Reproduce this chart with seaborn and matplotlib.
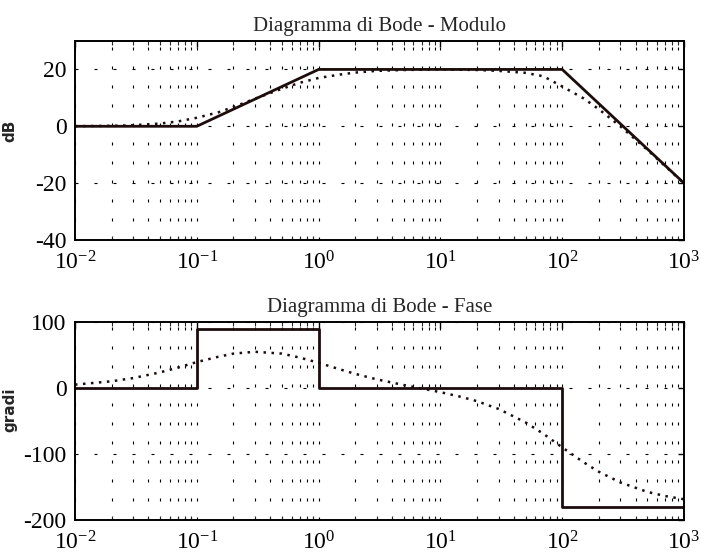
import numpy as np
import pandas as pd
import matplotlib
matplotlib.use("Agg")
import matplotlib.pyplot as plt
import seaborn as sns
from matplotlib.ticker import LogLocator, NullFormatter

sns.set_theme(style="white")
plt.rcParams['font.family'] = ['Liberation Serif', 'DejaVu Serif']
plt.rcParams['mathtext.fontset'] = 'custom'
plt.rcParams['mathtext.rm'] = 'Liberation Serif'
plt.rcParams['mathtext.it'] = 'Liberation Serif'

# ---- data ----
asym_freq = [0.01, 0.1, 1, 100, 1000]
asym_mag = [0, 0, 20, 20, -20]

phase_step_freq = [0.01, 0.1, 1, 100, 1000]
phase_step_val = [0, 90, 0, -180, -180]

real_freq = [0.01, 0.02, 0.03, 0.05, 0.07, 0.1, 0.15, 0.2, 0.3, 0.5, 0.7, 1,
             1.5, 2, 3, 5, 7, 10, 15, 20, 30, 50, 70, 100, 150, 200, 300, 500, 700, 1000]
real_mag = [0.04, 0.17, 0.37, 0.97, 1.7, 3.0, 4.9, 6.8, 9.7, 13.2, 15.3, 17.0,
            18.2, 18.9, 19.5, 19.8, 19.9, 20.0, 19.9, 19.8, 19.5, 18.8, 17.6, 14.0, 9.8, 6.0, 0.0, -8.3, -14.0, -20.1]
real_phase = [5.1, 10.2, 15.0, 23.7, 30.9, 39.3, 47.3, 52.1, 54.9, 52.1, 46.1, 38.2,
              28.2, 21.4, 13.1, 4.5, -0.7, -6.3, -13.7, -20.0, -31.7, -52.1, -69.3, -90.0, -112.6, -126.9, -143.1, -157.4, -163.7, -168.6]

mag_ticks = [-40, -20, 0, 20]
phase_ticks = [-200, -100, 0, 100]
decades = [0.01, 0.1, 1, 10, 100, 1000]
decade_labels = [r'$10^{-2}$', r'$10^{-1}$', r'$10^{0}$', r'$10^{1}$', r'$10^{2}$', r'$10^{3}$']

titles = ['Diagramma di Bode - Modulo', 'Diagramma di Bode - Fase']
ylabels = ['dB', 'gradi']

# ---- figure ----
fig = plt.figure(figsize=(7.07, 5.59), dpi=100)
W, H = 707, 559
ax1 = fig.add_axes([75 / W, 1 - 240 / H, (684 - 75) / W, (240 - 41) / H])
ax2 = fig.add_axes([75 / W, 1 - 520 / H, (684 - 75) / W, (520 - 322) / H])

line_col = '#1c0c0c'

df_asym = pd.DataFrame({'f': asym_freq, 'v': asym_mag})
df_step = pd.DataFrame({'f': phase_step_freq, 'v': phase_step_val})
df_real = pd.DataFrame({'f': real_freq, 'm': real_mag, 'p': real_phase})

sns.lineplot(data=df_asym, x='f', y='v', ax=ax1, color=line_col, lw=2.0, sort=False)
sns.lineplot(data=df_real, x='f', y='m', ax=ax1, color=line_col, lw=1.8,
             linestyle=(0, (1, 2.2)), sort=False)
sns.lineplot(data=df_step, x='f', y='v', ax=ax2, color=line_col, lw=2.0,
             drawstyle='steps-post', sort=False)
sns.lineplot(data=df_real, x='f', y='p', ax=ax2, color=line_col, lw=1.8,
             linestyle=(0, (1, 2.2)), sort=False)

grid_ls = (0, (2.7, 14.4))
for ax, yt, ylim, title, yl, ly in [(ax1, mag_ticks, (-40, 30), titles[0], ylabels[0], 0.55),
                                    (ax2, phase_ticks, (-200, 100), titles[1], ylabels[1], 0.555)]:
    ax.set_xscale('log')
    ax.set_xlim(0.01, 1000)
    ax.set_ylim(*ylim)
    ax.set_xticks(decades)
    ax.set_xticklabels(decade_labels)
    ax.xaxis.set_minor_locator(LogLocator(base=10, subs=np.arange(2, 10), numticks=20))
    ax.xaxis.set_minor_formatter(NullFormatter())
    ax.set_yticks(yt)
    ax.set_yticklabels([str(t) for t in yt])
    ax.tick_params(axis='both', which='major', direction='in', length=4, width=1,
                   top=True, right=True, labelsize=17, colors='black')
    ax.tick_params(axis='x', which='major', pad=8)
    ax.tick_params(axis='y', which='major', pad=6)
    ax.tick_params(axis='x', which='minor', direction='in', length=3, width=0.8,
                   top=True, bottom=True)
    ax.grid(True, which='major', axis='y', color='black', linestyle=grid_ls, linewidth=0.8)
    ax.grid(True, which='both', axis='x', color='black', linestyle=grid_ls, linewidth=0.8)
    for s in ax.spines.values():
        s.set_visible(True)
        s.set_color('black')
        s.set_linewidth(1.4)
    ax.set_xlabel('')
    ax.set_ylabel(yl, fontsize=11, fontweight='bold', family=['DejaVu Sans'])
    ax.yaxis.set_label_coords(-0.094, ly)
    ax.set_title(title, fontsize=15, pad=7)
    ax.set_facecolor('white')

fig.savefig('out.png', dpi=100, facecolor='white')
